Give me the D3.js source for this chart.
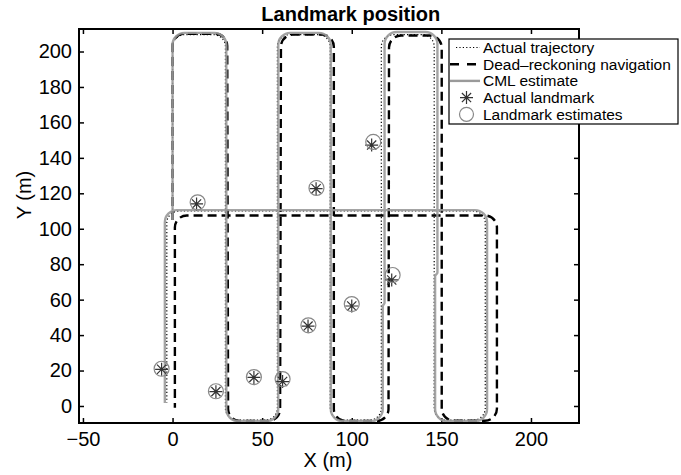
<!DOCTYPE html>
<html lang="en">
<head>
<meta charset="UTF-8">
<title>Landmark position</title>
<script src="https://cdn.jsdelivr.net/npm/d3@7"></script>
<style>
	body { margin: 0; background: #fff; }
	svg { font-family: "Liberation Sans", Arial, sans-serif; }
	.tick text { font-size: 20px; fill: #000; }
	.tick line { stroke: #000; stroke-width: 1.5; }
	.legend text { font-size: 15.5px; }
</style>
</head>
<body>
<script>
// trajectory waypoints (m)
var actualX = [0, 0, 29.5, 29.5, 58.5, 58.5, 88, 88, 116.5, 116.5, 146, 146, 174.5, 174.5, -3.2, -3.2];
var actualY = [105, 209.5, 209.5, -8, -8, 209.5, 209.5, -8, -8, 209.5, 209.5, -8, -8, 110, 110, 2];

var drX = [0, 0, 30.5, 31, 60, 60.5, 90, 90, 120.5, 120.8, 150.2, 150.2, 181, 181, 1.3, 1.3];
var drY = [105, 210, 210, -8.5, -8.5, 209.5, 209.5, -8.5, -8.5, 209, 209, -8.3, -8.3, 107.5, 107.5, -1];

var cmlX = [0, 0, 30, 30, 59, 59, 88.3, 88.3, 117.3, 117.3, 118.3, 118.3, 147.8, 147.8, 146.5, 146.5, 175.5, 175.5, -4.3, -4.3];
var cmlY = [105, 210.5, 210.5, -8.5, -8.5, 210.5, 210.5, -8.5, -8.5, 56.5, 58, 211, 211, 75, 73.5, -8.5, -8.5, 110.5, 110.5, 1.7];

// landmarks
var landmarkX = [-6.1, 13.4, 24.2, 45.4, 61.4, 75.6, 80.1, 100, 111.1, 122.3];
var landmarkY = [20.7, 114, 8.1, 16.1, 13.8, 45.1, 122.6, 56.4, 147.2, 71.1];
var estimateX = [-6.1, 14, 24.2, 45.4, 61.4, 75.8, 80.3, 100, 112, 122.8];
var estimateY = [21, 114.9, 8.3, 16.3, 15.2, 45.5, 123, 57.5, 149, 73.9];

var xTicks = [-50, 0, 50, 100, 150, 200];
var yTicks = [0, 20, 40, 60, 80, 100, 120, 140, 160, 180, 200];
var legendLabels = ['Actual trajectory', 'Dead\u2013reckoning navigation', 'CML estimate', 'Actual landmark', 'Landmark estimates'];

var W = 681, H = 475;
var margin = {top: 29, right: 102, bottom: 52, left: 79};
var width = W - margin.left - margin.right;
var height = H - margin.top - margin.bottom;

var svg = d3.select('body').append('svg')
	.attr('width', W)
	.attr('height', H);

var g = svg.append('g')
	.attr('transform', 'translate(' + margin.left + ',' + margin.top + ')');

var x = d3.scaleLinear().domain([-52.2, 226.8]).range([0, width]);
var y = d3.scaleLinear().domain([-9.6, 212.7]).range([height, 0]);

// polyline with rounded corners
function roundedPath(xs, ys, r) {
	var pts = xs.map(function (v, i) { return [x(v), y(ys[i])]; });
	var p = d3.path();
	p.moveTo(pts[0][0], pts[0][1]);
	for (var i = 1; i < pts.length - 1; i++) {
		var a = pts[i - 1], b = pts[i], c = pts[i + 1];
		var l1 = Math.hypot(b[0] - a[0], b[1] - a[1]);
		var l2 = Math.hypot(c[0] - b[0], c[1] - b[1]);
		p.arcTo(b[0], b[1], c[0], c[1], Math.min(r, l1 / 2, l2 / 2));
	}
	var last = pts[pts.length - 1];
	p.lineTo(last[0], last[1]);
	return p.toString();
}

function asterisk(s) {
	var d = '';
	for (var k = 0; k < 4; k++) {
		var t = k * Math.PI / 4;
		var dx = s * Math.cos(t), dy = s * Math.sin(t);
		d += 'M' + (-dx) + ',' + (-dy) + 'L' + dx + ',' + dy;
	}
	return d;
}

// axes, ticks inside on all four sides
g.append('g')
	.attr('transform', 'translate(0,' + height + ')')
	.call(d3.axisBottom(x).tickValues(xTicks).tickSizeInner(-5).tickSizeOuter(0).tickPadding(9))
	.call(function (s) { s.select('.domain').remove(); });
g.append('g')
	.call(d3.axisTop(x).tickValues(xTicks).tickSizeInner(-5).tickSizeOuter(0).tickFormat(''))
	.call(function (s) { s.select('.domain').remove(); });
g.append('g')
	.call(d3.axisLeft(y).tickValues(yTicks).tickSizeInner(-5).tickSizeOuter(0).tickPadding(7))
	.call(function (s) { s.select('.domain').remove(); });
g.append('g')
	.attr('transform', 'translate(' + width + ',0)')
	.call(d3.axisRight(y).tickValues(yTicks).tickSizeInner(-5).tickSizeOuter(0).tickFormat(''))
	.call(function (s) { s.select('.domain').remove(); });

var radius = 12;

g.append('path')
	.attr('d', roundedPath(actualX, actualY, radius))
	.attr('fill', 'none')
	.attr('stroke', '#000')
	.attr('stroke-width', 1.2)
	.attr('stroke-dasharray', '1.2,2.2');

g.append('path')
	.attr('d', roundedPath(drX, drY, radius))
	.attr('fill', 'none')
	.attr('stroke', '#000')
	.attr('stroke-width', 2.4)
	.attr('stroke-dasharray', '9,5');

g.append('path')
	.attr('d', roundedPath(cmlX, cmlY, radius))
	.attr('fill', 'none')
	.attr('stroke', '#9a9a9a')
	.attr('stroke-width', 2.4)
	.attr('stroke-opacity', 0.9);

g.selectAll('.lm')
	.data(landmarkX)
	.enter()
	.append('path')
	.attr('class', 'lm')
	.attr('transform', function (d, i) { return 'translate(' + x(d) + ',' + y(landmarkY[i]) + ')'; })
	.attr('d', asterisk(6.5))
	.attr('stroke', '#333')
	.attr('stroke-width', 1.2);

g.selectAll('.est')
	.data(estimateX)
	.enter()
	.append('circle')
	.attr('class', 'est')
	.attr('cx', function (d) { return x(d); })
	.attr('cy', function (d, i) { return y(estimateY[i]); })
	.attr('r', 7.5)
	.attr('fill', 'none')
	.attr('stroke', '#888')
	.attr('stroke-width', 1.2);

// box
g.append('rect')
	.attr('width', width)
	.attr('height', height)
	.attr('fill', 'none')
	.attr('stroke', '#000')
	.attr('stroke-width', 2);

// titles
svg.append('text')
	.attr('x', 350.8)
	.attr('y', 20.5)
	.attr('text-anchor', 'middle')
	.style('font-size', '20px')
	.style('font-weight', 'bold')
	.text('Landmark position');

svg.append('text')
	.attr('x', 328)
	.attr('y', 467)
	.attr('text-anchor', 'middle')
	.style('font-size', '20px')
	.text('X (m)');

svg.append('text')
	.attr('transform', 'translate(31,195) rotate(-90)')
	.attr('text-anchor', 'middle')
	.style('font-size', '20px')
	.text('Y (m)');

// legend
var legend = svg.append('g').attr('class', 'legend');
legend.append('rect')
	.attr('x', 449)
	.attr('y', 39)
	.attr('width', 229)
	.attr('height', 85)
	.attr('fill', '#fff')
	.attr('stroke', '#000')
	.attr('stroke-width', 1.2);

var rowY = function (i) { return 47.5 + i * 16.7; };

legend.append('line')
	.attr('x1', 456).attr('x2', 480).attr('y1', rowY(0)).attr('y2', rowY(0))
	.attr('stroke', '#000').attr('stroke-width', 1.2).attr('stroke-dasharray', '1.2,2.2');
legend.append('line')
	.attr('x1', 450).attr('x2', 480).attr('y1', rowY(1)).attr('y2', rowY(1))
	.attr('stroke', '#000').attr('stroke-width', 2.4).attr('stroke-dasharray', '9,8');
legend.append('line')
	.attr('x1', 450).attr('x2', 480).attr('y1', rowY(2)).attr('y2', rowY(2))
	.attr('stroke', '#9a9a9a').attr('stroke-width', 2.4);
legend.append('path')
	.attr('transform', 'translate(466.5,' + rowY(3) + ')')
	.attr('d', asterisk(6.5))
	.attr('stroke', '#333').attr('stroke-width', 1.2);
legend.append('circle')
	.attr('cx', 466.5).attr('cy', rowY(4)).attr('r', 7)
	.attr('fill', 'none').attr('stroke', '#888').attr('stroke-width', 1.2);

legend.selectAll('.lbl')
	.data(legendLabels)
	.enter()
	.append('text')
	.attr('class', 'lbl')
	.attr('x', 483)
	.attr('y', function (d, i) { return rowY(i); })
	.attr('dy', '0.35em')
	.text(function (d) { return d; });
</script>
</body>
</html>
